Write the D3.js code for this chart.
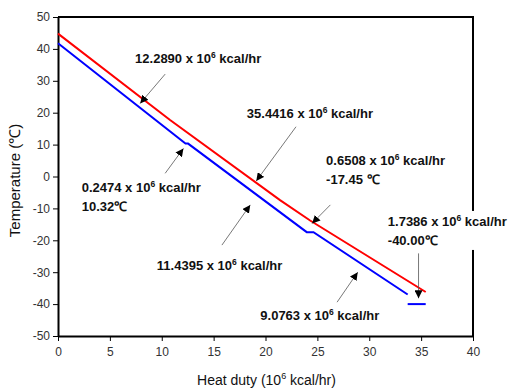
<!DOCTYPE html>
<html>
<head>
<meta charset="utf-8">
<script src="https://cdn.jsdelivr.net/npm/d3@7"></script>
<style>
  body { margin: 0; background: #fff; }
  text { font-family: Arial, "Liberation Sans", sans-serif; }
</style>
</head>
<body>
<svg id="chart" width="508" height="389"></svg>
<script>
var width = 508, height = 389
var margin = {top: 17, right: 35, bottom: 53, left: 58}

// hot stream (red)
var hotDuty = [0, 10.8, 21.4, 24.3, 35.442]
var hotTemp = [44.8, 17.7, -7.4, -13.8, -36.2]

// cold stream (blue), segments split at the flat parts
var coldDuty = [0, 12.289, 12.536, 23.976, 24.627, 33.703]
var coldTemp = [41.75, 10.32, 10.32, -17.45, -17.45, -37.0]
var coldEndDuty = [33.703, 35.442]
var coldEndTemp = [-40, -40]

var xTicks = [0, 5, 10, 15, 20, 25, 30, 35, 40]
var yTicks = [50, 40, 30, 20, 10, 0, -10, -20, -30, -40, -50]

// annotations: text lines, label anchor (duty, temp), arrow from -> to (duty, temp)
var notes = [
  {lines: [["12.2890", true]], at: [7.43, 35.6], from: [10.33, 32.1], to: [7.92, 22.9]},
  {lines: [["35.4416", true]], at: [18.2, 18.3], from: [22.94, 15.6], to: [19.11, -1.4]},
  {lines: [["0.6508", true], ["-17.45 ℃", false]], at: [25.84, 3.6], from: [26.25, -8.9], to: [24.49, -14.7]},
  {lines: [["0.2474", true], ["10.32℃", false]], at: [2.29, -4.8], from: [10.33, 1.0], to: [12.09, 8.8]},
  {lines: [["11.4395", true]], at: [9.53, -29.3], from: [15.8, -21.5], to: [18.53, -8.9]},
  {lines: [["9.0763", true]], at: [19.5, -45.0], from: [26.9, -39.4], to: [28.89, -30.0]},
  {lines: [["1.7386", true], ["-40.00℃", false]], at: [31.79, -15.5], from: [34.75, -24.1], to: [34.75, -38.2], box: true}
]

var svg = d3.select('#chart')

var x = d3.scaleLinear().domain([0, 40]).range([margin.left, width - margin.right])
var y = d3.scaleLinear().domain([-50, 50]).range([height - margin.bottom, margin.top])

svg.append('defs').append('marker')
  .attr('id', 'head')
  .attr('viewBox', '0 0 10 10')
  .attr('refX', 10).attr('refY', 5)
  .attr('markerWidth', 8).attr('markerHeight', 8)
  .attr('markerUnits', 'userSpaceOnUse')
  .attr('orient', 'auto')
  .append('path')
  .attr('d', 'M0,0 L10,5 L0,10 Z')
  .attr('fill', '#000')

// frame (top + right)
svg.append('path')
  .attr('d', 'M' + x(0) + ',' + y(50) + 'H' + x(40) + 'V' + y(-50))
  .attr('fill', 'none')
  .attr('stroke', '#000')
  .attr('stroke-width', 2)

var fmt = d => String(d)
var xAxis = svg.append('g')
  .attr('transform', 'translate(0,' + y(-50) + ')')
  .call(d3.axisBottom(x).tickValues(xTicks).tickSize(5).tickSizeOuter(0).tickFormat(fmt))
var yAxis = svg.append('g')
  .attr('transform', 'translate(' + x(0) + ',0)')
  .call(d3.axisLeft(y).tickValues(yTicks).tickSize(5).tickSizeOuter(0).tickFormat(fmt))

;[xAxis, yAxis].forEach(function(a) {
  a.select('.domain').attr('stroke', '#000').attr('stroke-width', 2)
  a.selectAll('.tick line').attr('stroke', '#000')
  a.selectAll('.tick text').attr('fill', '#333')
    .style('font-size', '12px').style('font-family', 'Arial, "Liberation Sans", sans-serif')
})
xAxis.selectAll('.tick text').attr('dy', '1.1em').attr('y', 7)
yAxis.selectAll('.tick text').attr('x', -8)

var line = d3.line().x(d => x(d[0])).y(d => y(d[1]))

svg.append('path')
  .attr('d', line(d3.zip(hotDuty, hotTemp)))
  .attr('fill', 'none').attr('stroke', '#ff0000').attr('stroke-width', 2)
svg.append('path')
  .attr('d', line(d3.zip(coldDuty, coldTemp)))
  .attr('fill', 'none').attr('stroke', '#0000ff').attr('stroke-width', 2)
svg.append('path')
  .attr('d', line(d3.zip(coldEndDuty, coldEndTemp)))
  .attr('fill', 'none').attr('stroke', '#0000ff').attr('stroke-width', 2)

// annotations
notes.forEach(function(n) {
  var g = svg.append('g')
  var box = n.box ? g.append('rect').attr('fill', '#fff') : null
  var t = g.append('text')
    .attr('x', x(n.at[0])).attr('y', y(n.at[1]))
    .attr('font-size', 13).attr('font-weight', 'bold').attr('fill', '#111')
  n.lines.forEach(function(l, i) {
    var ts = t.append('tspan').attr('x', x(n.at[0])).attr('dy', i == 0 ? 0 : 19)
    if (l[1]) {
      ts.text(l[0] + ' x 10')
      t.append('tspan').attr('font-size', 8.5).attr('dy', -5).text('6')
      t.append('tspan').attr('dy', 5).text(' kcal/hr')
    } else {
      ts.text(l[0])
    }
  })
  if (box) {
    var bb = t.node().getBBox()
    box.attr('x', bb.x - 2).attr('y', bb.y - 2).attr('width', bb.width + 4).attr('height', bb.height + 4)
  }
  svg.append('line')
    .attr('x1', x(n.from[0])).attr('y1', y(n.from[1]))
    .attr('x2', x(n.to[0])).attr('y2', y(n.to[1]))
    .attr('stroke', '#555').attr('stroke-width', 0.8)
    .attr('marker-end', 'url(#head)')
})

// axis titles
svg.append('text')
  .attr('x', (x(0) + x(40)) / 2 + 1).attr('y', 385)
  .attr('text-anchor', 'middle').attr('font-size', 14).attr('fill', '#111')
  .call(function(t) {
    t.append('tspan').text('Heat duty (10')
    t.append('tspan').attr('font-size', 9).attr('dy', -6).text('6')
    t.append('tspan').attr('dy', 6).text(' kcal/hr)')
  })
svg.append('text')
  .attr('transform', 'translate(20,' + (y(0) + 4) + ') rotate(-90)')
  .attr('text-anchor', 'middle').attr('font-size', 15).attr('fill', '#111')
  .text('Temperature (℃)')
</script>
</body>
</html>
